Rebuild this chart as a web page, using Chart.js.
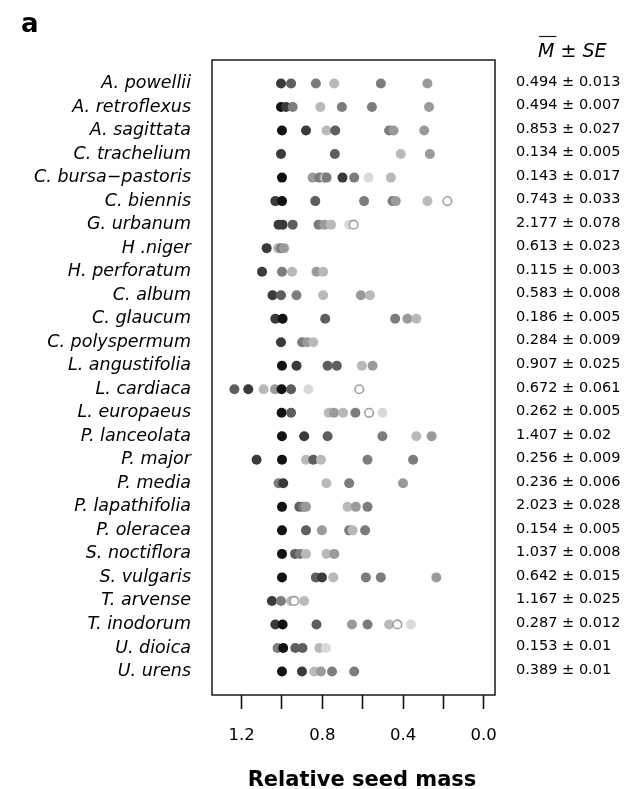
<!DOCTYPE html>
<html>
<head>
<meta charset="utf-8">
<script src="https://cdn.jsdelivr.net/npm/chart.js@4.4.0/dist/chart.umd.min.js"></script>
<style>
  html, body { margin: 0; padding: 0; background: #fff; }
  canvas { display: block; }
</style>
</head>
<body>
<canvas id="seedChart" width="626" height="789"></canvas>
<script>
// species, top to bottom
const species = [
  'A. powellii', 'A. retroflexus', 'A. sagittata', 'C. trachelium', 'C. bursa\u2212pastoris',
  'C. biennis', 'G. urbanum', 'H .niger', 'H. perforatum', 'C. album', 'C. glaucum',
  'C. polyspermum', 'L. angustifolia', 'L. cardiaca', 'L. europaeus', 'P. lanceolata',
  'P. major', 'P. media', 'P. lapathifolia', 'P. oleracea', 'S. noctiflora', 'S. vulgaris',
  'T. arvense', 'T. inodorum', 'U. dioica', 'U. urens'
];

// relative seed mass of each population (one row per species)
const seedMass = [
  [1.005, 0.955, 0.832, 0.741, 0.510, 0.279],
  [1.005, 0.98, 0.947, 0.81, 0.703, 0.554, 0.271],
  [1.0, 0.881, 0.779, 0.736, 0.469, 0.447, 0.295],
  [1.005, 0.738, 0.411, 0.267],
  [1.0, 0.848, 0.815, 0.79, 0.779, 0.70, 0.642, 0.571, 0.46],
  [1.033, 1.0, 0.835, 0.593, 0.452, 0.436, 0.279, 0.18],
  [1.017, 0.997, 0.947, 0.819, 0.79, 0.757, 0.667, 0.645],
  [1.076, 1.02, 1.005, 0.99],
  [1.099, 1.0, 0.95, 0.829, 0.796],
  [1.047, 1.005, 0.928, 0.796, 0.609, 0.564],
  [1.033, 0.997, 0.786, 0.439, 0.378, 0.334],
  [1.005, 0.90, 0.875, 0.845],
  [1.0, 0.928, 0.774, 0.728, 0.604, 0.551],
  [1.236, 1.167, 1.091, 1.035, 1.002, 0.955, 0.869, 0.617],
  [1.002, 0.955, 0.768, 0.742, 0.697, 0.636, 0.568, 0.502],
  [1.0, 0.89, 0.774, 0.502, 0.334, 0.258],
  [1.126, 1.0, 0.881, 0.845, 0.807, 0.576, 0.35],
  [1.017, 0.994, 0.78, 0.667, 0.4],
  [1.0, 0.914, 0.895, 0.881, 0.675, 0.634, 0.576],
  [1.0, 0.881, 0.802, 0.667, 0.65, 0.588],
  [1.0, 0.935, 0.91, 0.881, 0.779, 0.741],
  [1.0, 0.832, 0.802, 0.746, 0.584, 0.510, 0.235],
  [1.05, 1.005, 0.955, 0.939, 0.89],
  [1.033, 0.997, 0.829, 0.653, 0.576, 0.469, 0.428, 0.361],
  [1.022, 0.994, 0.934, 0.898, 0.815, 0.782],
  [1.0, 0.901, 0.84, 0.807, 0.752, 0.642]
];

// grey level per point (0 dark .. 6 light, o = open circle)
const shade = [
  '123534', '0135334', '0152344', '1254', '043o31365', '1023345o', '1123456o',
  '1534', '13545', '123545', '102345', '1345', '012254', '2154026o', '025453o6',
  '012354', '1052533', '31534', '0234543', '024353', '023554', '0215334',
  '135o5', '102435o6', '302256', '015433'
];

// mean seed mass (mg) and standard error
const means = [0.494, 0.494, 0.853, 0.134, 0.143, 0.743, 2.177, 0.613, 0.115, 0.583, 0.186, 0.284, 0.907,
  0.672, 0.262, 1.407, 0.256, 0.236, 2.023, 0.154, 1.037, 0.642, 1.167, 0.287, 0.153, 0.389];
const ses = [0.013, 0.007, 0.027, 0.005, 0.017, 0.033, 0.078, 0.023, 0.003, 0.008, 0.005, 0.009, 0.025,
  0.061, 0.005, 0.02, 0.009, 0.006, 0.028, 0.005, 0.008, 0.015, 0.025, 0.012, 0.01, 0.01];

const xTickLabels = ['1.2', '0.8', '0.4', '0.0'];

const greys = ['#121212', '#3a3a3a', '#5e5e5e', '#7c7c7c', '#9a9a9a', '#b9b9b9', '#dadada'];
const FONT = '"DejaVu Sans", sans-serif';

Chart.defaults.font.family = FONT;
Chart.defaults.color = '#000';

const datasets = seedMass.map((row, i) => {
  const s = shade[i].split('');
  return {
    label: species[i],
    data: row.map(v => ({ x: v, y: i + 1 })),
    pointRadius: s.map(c => c === 'o' ? 4.3 : 5),
    pointBackgroundColor: s.map(c => c === 'o' ? '#fff' : greys[+c]),
    pointBorderColor: s.map(c => c === 'o' ? '#a0a0a0' : 'rgba(0,0,0,0)'),
    pointBorderWidth: s.map(c => c === 'o' ? 1.6 : 0)
  };
});

// box, panel letter, header, axis title and mean +- SE column
const extras = {
  id: 'extras',
  afterDraw(chart) {
    const ctx = chart.ctx;
    const a = chart.chartArea;
    const y = chart.scales.y;
    ctx.save();
    ctx.strokeStyle = '#1a1a1a';
    ctx.lineWidth = 1.5;
    ctx.strokeRect(a.left, a.top, a.right - a.left, a.bottom - a.top);

    ctx.fillStyle = '#000';
    ctx.font = 'bold 26px ' + FONT;
    ctx.textBaseline = 'alphabetic';
    ctx.fillText('a', 21, 32);

    // axis title
    ctx.font = 'bold 21px ' + FONT;
    ctx.textAlign = 'center';
    ctx.fillText('Relative seed mass', 362, 786);
    ctx.textAlign = 'left';

    // M-bar +- SE
    let hx = 538;
    ctx.font = 'italic 19px ' + FONT;
    const mw = ctx.measureText('M').width;
    ctx.fillText('M', hx, 57);
    ctx.lineWidth = 1.2;
    ctx.beginPath();
    ctx.moveTo(hx + 1, 36.5);
    ctx.lineTo(hx + mw + 2, 36.5);
    ctx.stroke();
    hx += mw;
    ctx.font = '19px ' + FONT;
    const pm = ' \u00b1 ';
    ctx.fillText(pm, hx, 57);
    hx += ctx.measureText(pm).width;
    ctx.font = 'italic 19px ' + FONT;
    ctx.fillText('SE', hx, 57);

    ctx.font = '14.5px ' + FONT;
    ctx.textBaseline = 'middle';
    means.forEach((m, i) => {
      ctx.fillText(m + ' \u00b1 ' + ses[i], 516, y.getPixelForValue(i + 1) - 1.5);
    });
    ctx.restore();
  }
};

new Chart(document.getElementById('seedChart'), {
  type: 'scatter',
  data: { datasets },
  options: {
    responsive: false,
    animation: false,
    devicePixelRatio: 1,
    layout: { padding: { top: 60, right: 131, bottom: 0, left: 0 } },
    plugins: { legend: { display: false }, tooltip: { enabled: false } },
    scales: {
      x: {
        type: 'linear',
        reverse: true,
        min: -0.056,
        max: 1.347,
        border: { display: false },
        grid: { drawOnChartArea: false, drawTicks: true, tickLength: 14, tickColor: '#111', tickWidth: 1.6 },
        ticks: {
          stepSize: 0.2,
          includeBounds: false,
          padding: 17,
          maxRotation: 0,
          font: { size: 16.5 },
          callback: v => {
            const s = Math.abs(v).toFixed(1);
            return xTickLabels.includes(s) ? s : '';
          }
        },
        afterFit: s => { s.height = 94; }
      },
      y: {
        type: 'linear',
        reverse: true,
        min: 0,
        max: 27,
        border: { display: false },
        grid: { display: false, drawTicks: false },
        ticks: {
          stepSize: 1,
          autoSkip: false,
          padding: 21,
          font: { size: 17.5, style: 'italic' },
          callback: v => species[v - 1] || ''
        },
        afterFit: s => { s.width = 212; }
      }
    }
  },
  plugins: [extras]
});
</script>
</body>
</html>
